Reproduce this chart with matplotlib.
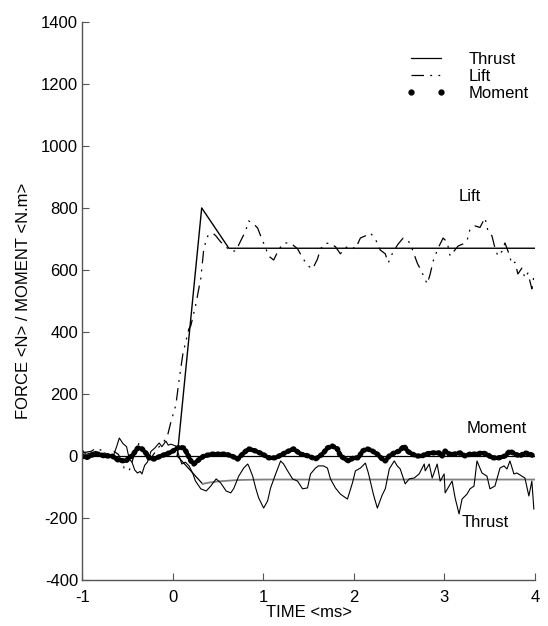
import matplotlib
matplotlib.use("Agg")
import matplotlib.pyplot as plt
from matplotlib.lines import Line2D

plt.rcParams['font.family'] = ['Liberation Sans', 'DejaVu Sans']
plt.rcParams['font.size'] = 12
plt.rcParams['axes.unicode_minus'] = False

# ---------------- data ----------------
thrust_t = [-1.0, -0.96, -0.9, -0.85, -0.8, -0.75, -0.7, -0.65, -0.62, -0.59, -0.55, -0.51,
            -0.48, -0.45, -0.42, -0.39, -0.36, -0.34, -0.31, -0.28, -0.24, -0.2, -0.15, -0.12,
            -0.075, -0.05, -0.02, 0.035, 0.07, 0.10, 0.14, 0.18, 0.22, 0.25, 0.31, 0.37, 0.42,
            0.48, 0.53, 0.59, 0.641, 0.674, 0.729, 0.784, 0.828, 0.839, 0.883, 0.916, 0.949,
            1.004, 1.048, 1.081, 1.137, 1.192, 1.225, 1.269, 1.324, 1.379, 1.434, 1.489, 1.522,
            1.577, 1.61, 1.665, 1.709, 1.742, 1.797, 1.852, 1.93, 1.985, 2.018, 2.073, 2.128,
            2.161, 2.216, 2.26, 2.315, 2.348, 2.392, 2.447, 2.48, 2.513, 2.568, 2.612, 2.667,
            2.722, 2.778, 2.789, 2.833, 2.866, 2.921, 2.954, 2.998, 3.009, 3.053, 3.086, 3.119,
            3.163, 3.196, 3.251, 3.284, 3.328, 3.361, 3.416, 3.471, 3.504, 3.559, 3.615, 3.659,
            3.692, 3.725, 3.769, 3.802, 3.857, 3.89, 3.934, 3.967, 3.989]
thrust_v = [20, 5, 10, 15, 5, 10, 0, 5, 30, 58, 40, 30,
            -10, -20, -45, -55, -50, -58, -30, -20, 15, 25, 42, 30,
            48, 35, 38, 32, 0, -26, -20, -32, -55, -80, -106, -113, -97,
            -74, -87, -113, -119, -105, -65, -39, -26, -32, -65, -103, -135,
            -168, -145, -103, -58, -16, -26, -48, -74, -81, -106, -103, -58,
            -39, -32, -32, -39, -74, -103, -123, -139, -87, -48, -39, -23,
            -55, -123, -168, -125, -106, -42, -16, -32, -42, -90, -74, -71,
            -58, -26, -48, -26, -71, -26, -81, -58, -119, -97, -81, -135,
            -187, -139, -123, -106, -97, -16, -55, -65, -106, -97, -39, -32,
            -42, -16, -58, -55, -65, -71, -129, -81, -171]

lift_t = [-1.0, -0.9, -0.85, -0.8, -0.75, -0.7, -0.65, -0.6, -0.56, -0.537, -0.482, -0.45,
          -0.42, -0.372, -0.33, -0.295, -0.24, -0.2, -0.15, -0.1, -0.053, -0.02, 0.035, 0.068,
          0.112, 0.178, 0.2, 0.256, 0.311, 0.344, 0.388, 0.443, 0.476, 0.531, 0.586, 0.641,
          0.696, 0.751, 0.806, 0.839, 0.883, 0.938, 0.971, 1.026, 1.059, 1.115, 1.17, 1.225,
          1.302, 1.379, 1.434, 1.489, 1.544, 1.599, 1.632, 1.687, 1.742, 1.797, 1.852, 1.907,
          1.963, 2.018, 2.073, 2.128, 2.183, 2.238, 2.293, 2.348, 2.381, 2.436, 2.491, 2.546,
          2.601, 2.645, 2.7, 2.756, 2.811, 2.844, 2.877, 2.932, 2.987, 3.031, 3.064, 3.119,
          3.152, 3.207, 3.251, 3.284, 3.339, 3.394, 3.449, 3.482, 3.526, 3.559, 3.592, 3.637,
          3.67, 3.703, 3.747, 3.78, 3.813, 3.857, 3.89, 3.923, 3.967, 3.989]
lift_v = [10, 15, 25, 20, 10, 5, 15, 5, -20, -39, -48, -20,
          10, 42, 20, 0, -6, 10, 30, 45, 71, 110, 165, 240,
          329, 410, 420, 490, 575, 671, 710, 719, 710, 690, 675, 661,
          661, 694, 726, 758, 752, 735, 710, 671, 645, 632, 665, 687,
          687, 668, 639, 615, 603, 635, 668, 686, 686, 675, 652, 672,
          677, 668, 703, 710, 719, 700, 664, 652, 623, 660, 684, 703,
          695, 668, 623, 590, 555, 587, 629, 671, 703, 690, 645, 665,
          677, 684, 694, 732, 742, 737, 768, 726, 710, 671, 645, 660,
          687, 661, 619, 625, 587, 606, 574, 590, 539, 580]

moment_t = [-1.0, -0.956, -0.868, -0.813, -0.758, -0.67, -0.604, -0.537, -0.515, -0.482, -0.449,
            -0.394, -0.383, -0.339, -0.317, -0.284, -0.262, -0.207, -0.13, -0.075, -0.02, 0.068,
            0.123, 0.156, 0.2, 0.222, 0.233, 0.289, 0.344, 0.432, 0.509, 0.586, 0.652, 0.718,
            0.784, 0.839, 0.916, 0.993, 1.059, 1.137, 1.214, 1.28, 1.335, 1.412, 1.5, 1.577,
            1.654, 1.709, 1.764, 1.819, 1.852, 1.907, 1.941, 1.996, 2.051, 2.095, 2.15, 2.205,
            2.26, 2.315, 2.348, 2.392, 2.447, 2.502, 2.557, 2.59, 2.645, 2.7, 2.756, 2.789,
            2.866, 2.943, 2.976, 3.009, 3.053, 3.108, 3.174, 3.229, 3.284, 3.361, 3.416, 3.471,
            3.526, 3.604, 3.67, 3.725, 3.78, 3.835, 3.89, 3.945, 3.989]
moment_v = [0, -6, 6, 6, 0, 0, -13, -16, -16, -5, 0,
            23, 26, 23, 16, 5, -6, -10, 0, 6, 12, 28,
            26, 10, -16, -23, -26, -12, 0, 6, 6, 6, 0, -10,
            10, 23, 16, 6, -6, -6, 6, 16, 23, 6, 0, -10,
            6, 26, 32, 23, 0, -10, -16, -6, -6, 16, 23, 16,
            6, -10, -16, 0, 10, 16, 32, 16, 6, 0, 0, 6,
            10, 10, 0, 16, 6, 6, 10, 0, 6, 6, 10, 6,
            -6, -6, 0, 16, 6, 0, 10, 6, 0]

# reference (ideal) curves
lift_ref_t = [0.05, 0.32, 0.62, 4.0]
lift_ref_v = [0, 800, 670, 670]
zero_ref_t = [-1.0, 4.0]
zero_ref_v = [0, 0]
thrust_drop_t = [0.05, 0.33]
thrust_drop_v = [0, -90]
thrust_ref_t = [0.33, 0.4, 0.5, 0.6, 0.7, 0.8, 1.0, 4.0]
thrust_ref_v = [-90, -86, -82, -80, -78, -77, -76, -76]

x_ticks = [-1, 0, 1, 2, 3, 4]
y_ticks = [-400, -200, 0, 200, 400, 600, 800, 1000, 1200, 1400]

# ---------------- plot ----------------
fig = plt.figure(figsize=(5.48, 6.26), dpi=100)
ax = fig.add_axes([0.150, 0.0735, 0.826, 0.8915])

lift_ls = (0, (10, 5, 1.5, 5, 1.5, 5))

ax.plot(zero_ref_t, zero_ref_v, color='black', lw=0.9)
ax.plot(lift_ref_t, lift_ref_v, color='black', lw=1.0)
ax.plot(thrust_drop_t, thrust_drop_v, color='black', lw=0.9)
ax.plot(thrust_ref_t, thrust_ref_v, color='#808080', lw=1.3)

ax.plot(thrust_t, thrust_v, color='black', lw=0.8)
ax.plot(lift_t, lift_v, color='black', lw=0.9, linestyle=lift_ls)
ax.plot(moment_t, moment_v, color='black', lw=3.8, linestyle=(0, (0.3, 0.7)),
        dash_capstyle='round')

ax.set_xlim(-1, 4)
ax.set_ylim(-400, 1400)
ax.set_xticks(x_ticks)
ax.set_yticks(y_ticks)
ax.tick_params(direction='in', length=5, width=0.8, color='#555555', labelsize=12)
ax.tick_params(axis='x', pad=7)
ax.tick_params(axis='y', pad=3)
for s in ['top', 'right']:
    ax.spines[s].set_visible(False)
for s in ['left', 'bottom']:
    ax.spines[s].set_color('#555555')
    ax.spines[s].set_linewidth(1.0)

ax.set_xlabel('TIME <ms>', fontsize=12, labelpad=0)
ax.set_ylabel('FORCE <N> / MOMENT <N.m>', fontsize=12, labelpad=7)

ax.text(3.28, 838, 'Lift', ha='center', va='center', fontsize=12)
ax.text(3.58, 88, 'Moment', ha='center', va='center', fontsize=12)
ax.text(3.45, -215, 'Thrust', ha='center', va='center', fontsize=12)

handles = [
    Line2D([], [], color='black', lw=0.9),
    Line2D([], [], color='black', lw=0.9, linestyle=lift_ls),
    Line2D([], [], color='black', ls='none', marker='o', markersize=3.5),
]
ax.legend(handles, ['Thrust', 'Lift', 'Moment'], loc='upper left',
          bbox_to_anchor=(0.70, 0.958), frameon=False, numpoints=2,
          handlelength=2.4, handletextpad=1.35, labelspacing=0.12, fontsize=12,
          borderaxespad=0)

fig.savefig('out.png', dpi=100)
